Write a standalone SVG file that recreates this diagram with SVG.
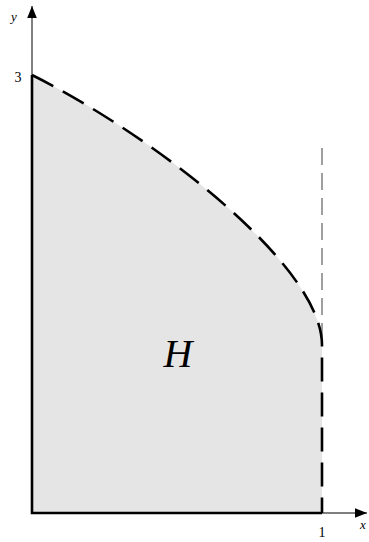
<svg xmlns="http://www.w3.org/2000/svg" width="369" height="542" viewBox="0 0 369 542">
<style>
.lbl{font-family:"Liberation Serif","DejaVu Serif",serif;fill:#000}
.axis{stroke:#000;stroke-width:1;fill:none}
.edge{stroke:#000;stroke-width:2.6;fill:none}
</style>
<defs>
<marker id="arr" viewBox="0 0 10 10" refX="10" refY="5" markerWidth="12" markerHeight="12" markerUnits="userSpaceOnUse" orient="auto">
<path d="M0,1 L10,5 L0,9 Z" fill="#000"/>
</marker>
</defs>
<g id="region">
<path d="M32,75 C152,135 322,265 322,345 L322,513 L32,513 Z" fill="#e5e5e5" stroke="none"/>
</g>
<g id="connectors">
<line class="axis" x1="32" y1="513" x2="32" y2="6" marker-end="url(#arr)"/>
<line class="axis" x1="32" y1="513" x2="367" y2="513" marker-end="url(#arr)"/>
<line x1="322" y1="148" x2="322" y2="340" stroke="#888" stroke-width="1.6" stroke-dasharray="17 8"/>
<path class="edge" d="M32,75 L32,513 L322,513"/>
<path class="edge" d="M32,75 C152,135 322,265 322,345 L322,513" stroke-dasharray="24 11"/>
</g>
<g id="labels">
<text class="lbl" x="14" y="21" font-size="13" font-style="italic" text-anchor="middle">y</text>
<text class="lbl" x="18" y="82" font-size="14" text-anchor="middle">3</text>
<text class="lbl" x="322" y="537" font-size="14" text-anchor="middle">1</text>
<text class="lbl" x="360" y="529" font-size="13" font-style="italic">x</text>
<text class="lbl" x="178" y="367" font-size="40" font-style="italic" text-anchor="middle">H</text>
</g>
</svg>
